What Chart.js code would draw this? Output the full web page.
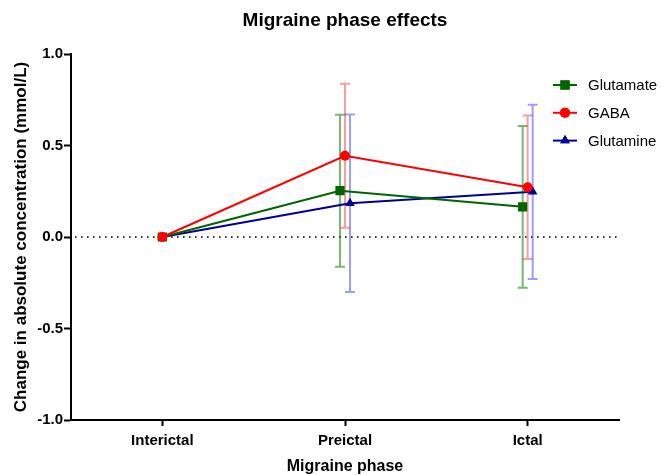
<!DOCTYPE html>
<html>
<head>
<meta charset="utf-8">
<script src="https://cdn.jsdelivr.net/npm/chart.js@4"></script>
<style>
  html, body { margin: 0; padding: 0; background: #fff; }
  #wrap { width: 661px; height: 475px; }
</style>
</head>
<body>
<div id="wrap"><canvas id="chart" width="661" height="475"></canvas></div>
<script>
// data
const phases = ["Interictal", "Preictal", "Ictal"];
const glutamate = [0, 0.253, 0.165];
const glutamateErr = [0, 0.415, 0.442];
const gaba = [0, 0.444, 0.272];
const gabaErr = [0, 0.394, 0.392];
const glutamine = [0, 0.184, 0.247];
const glutamineErr = [0, 0.485, 0.476];
const yTicks = [-1.0, -0.5, 0.0, 0.5, 1.0];

const FONT = "'Liberation Sans', Arial, sans-serif";

const series = [
  { label: "Glutamate", data: glutamate, err: glutamateErr, color: "rgb(0,100,0)", errColor: "rgba(0,128,0,0.55)", style: "rect", radius: 6.5, order: 1, dodge: -5 },
  { label: "GABA", data: gaba, err: gabaErr, color: "rgb(255,0,0)", errColor: "rgba(255,60,60,0.5)", style: "circle", radius: 5, order: 0, dodge: 0 },
  { label: "Glutamine", data: glutamine, err: glutamineErr, color: "rgb(0,0,150)", errColor: "rgba(60,60,255,0.5)", style: "triangle", radius: 5.5, order: 2, dodge: 5 }
];

// shift points sideways at Preictal / Ictal like the original
const dodgePlugin = {
  id: "dodge",
  afterDatasetsUpdate(chart) {
    chart.data.datasets.forEach((ds, i) => {
      const meta = chart.getDatasetMeta(i);
      meta.data.forEach((pt, j) => {
        if (j > 0) pt.x += series[i].dodge;
      });
    });
  }
};

const extrasPlugin = {
  id: "extras",
  beforeDatasetsDraw(chart) {
    const ctx = chart.ctx;
    const y = chart.scales.y;
    const area = chart.chartArea;
    // dotted zero line
    ctx.save();
    ctx.strokeStyle = "#000";
    ctx.lineWidth = 1.6;
    ctx.setLineDash([1.6, 4.4]);
    const y0 = y.getPixelForValue(0);
    ctx.beginPath();
    ctx.moveTo(area.left + 4, y0);
    ctx.lineTo(area.right, y0);
    ctx.stroke();
    ctx.restore();
    // error bars
    chart.data.datasets.forEach((ds, i) => {
      const meta = chart.getDatasetMeta(i);
      const s = series[i];
      ctx.save();
      ctx.strokeStyle = s.errColor;
      ctx.lineWidth = 2;
      meta.data.forEach((pt, j) => {
        const e = s.err[j];
        if (!e) return;
        const top = y.getPixelForValue(s.data[j] + e);
        const bot = y.getPixelForValue(s.data[j] - e);
        ctx.beginPath();
        ctx.moveTo(pt.x, top); ctx.lineTo(pt.x, bot);
        ctx.moveTo(pt.x - 5, top); ctx.lineTo(pt.x + 5, top);
        ctx.moveTo(pt.x - 5, bot); ctx.lineTo(pt.x + 5, bot);
        ctx.stroke();
      });
      ctx.restore();
    });
  },
  afterDraw(chart) {
    const ctx = chart.ctx;
    ctx.save();
    // title
    ctx.fillStyle = "#000";
    ctx.font = "bold 19px " + FONT;
    ctx.textAlign = "center";
    ctx.textBaseline = "middle";
    const area = chart.chartArea;
    ctx.fillText("Migraine phase effects", (area.left + area.right) / 2, 21);
    // legend
    ctx.font = "15px " + FONT;
    ctx.textAlign = "left";
    series.forEach((s, i) => {
      const ly = 85 + i * 27.8;
      ctx.strokeStyle = s.color;
      ctx.lineWidth = 2;
      ctx.beginPath();
      ctx.moveTo(553, ly); ctx.lineTo(577, ly);
      ctx.stroke();
      ctx.fillStyle = s.color;
      Chart.helpers.drawPoint(ctx, { pointStyle: s.style, radius: s.radius, borderWidth: 0 }, 565, ly);
      ctx.fill();
      ctx.fillStyle = "#000";
      ctx.fillText(s.label, 588, ly + 1);
    });
    ctx.restore();
  }
};

new Chart(document.getElementById("chart"), {
  type: "line",
  data: {
    labels: phases,
    datasets: series.map(s => ({
      label: s.label,
      data: s.data,
      borderColor: s.color,
      backgroundColor: s.color,
      borderWidth: 2,
      pointStyle: s.style,
      pointRadius: s.radius,
      pointBorderWidth: 0,
      pointBackgroundColor: s.color,
      order: s.order,
      tension: 0
    }))
  },
  options: {
    responsive: false,
    animation: false,
    layout: { padding: { top: 54, right: 42, left: 0, bottom: 0 } },
    plugins: {
      legend: { display: false },
      tooltip: { enabled: false },
      title: { display: false }
    },
    scales: {
      x: {
        type: "category",
        offset: true,
        grid: { display: true, drawOnChartArea: false, drawTicks: true, tickLength: 6, color: "#000", tickWidth: 2 },
        border: { color: "#000", width: 2 },
        ticks: { color: "#000", font: { family: FONT, size: 15, weight: "bold" }, padding: 6, maxRotation: 0 },
        title: { display: true, text: "Migraine phase", color: "#000", font: { family: FONT, size: 16, weight: "bold" }, padding: { top: 0, bottom: -1.5 } },
        afterFit(s) { s.height = 55; }
      },
      y: {
        min: -1,
        max: 1,
        afterBuildTicks(s) { s.ticks = yTicks.map(v => ({ value: v })); },
        grid: { display: true, drawOnChartArea: false, drawTicks: true, tickLength: 7, color: "#000", tickWidth: 2 },
        border: { color: "#000", width: 2 },
        ticks: { color: "#000", font: { family: FONT, size: 15, weight: "bold" }, padding: 1, callback: v => v.toFixed(1) },
        title: { display: true, text: "Change in absolute concentration (mmol/L)", color: "#000", font: { family: FONT, size: 17, weight: "bold" }, padding: { top: 11, bottom: 0 } },
        afterFit(s) { s.width = 71; }
      }
    }
  },
  plugins: [dodgePlugin, extrasPlugin]
});
</script>
</body>
</html>
